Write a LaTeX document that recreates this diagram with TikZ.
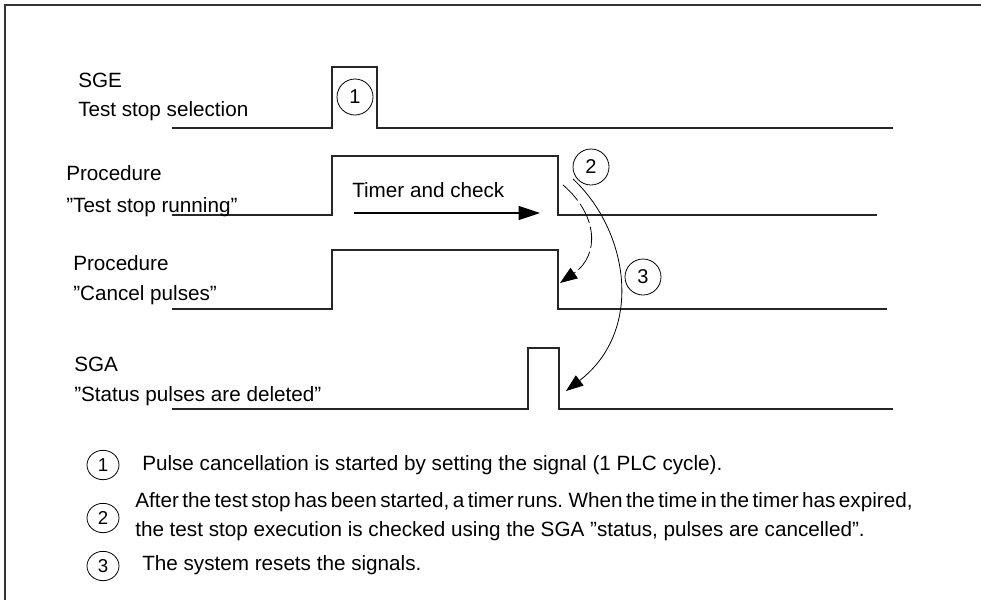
\documentclass[tikz,border=0pt]{standalone}
\usepackage{fontspec}
\setmainfont{Liberation Sans}
\usepackage{tikz}
\usetikzlibrary{arrows.meta,positioning,shapes.geometric}

\tikzset{
  sig/.style={line width=0.8pt, black!85},
  lbl/.style={font=\fontsize{15.5}{18}\selectfont, inner sep=0pt, anchor=base west},
  legtxt/.style={font=\fontsize{15.5}{18}\selectfont, inner sep=0pt, anchor=base west},
  numc/.style={draw, circle, line width=0.6pt, minimum size=27pt, inner sep=0pt, font=\fontsize{15}{17}\selectfont},
  legnum/.style={draw, ellipse, line width=0.6pt, minimum width=24pt, minimum height=22pt, inner sep=0pt, font=\fontsize{14}{16}\selectfont},
  bigtip/.style={-{Triangle[length=16pt,width=10.5pt]}},
  curvetip/.style={-{Triangle[length=13pt,width=9.5pt]}},
}

\begin{document}
\begin{tikzpicture}[x=0.75pt, y=-0.75pt]
  \useasboundingbox (0,0) rectangle (981,600);

  % 1. Rahmen
  \draw[line width=1.1pt, black!80] (981,5) -- (5,5) -- (5,600);

  % 2. Signalverlaeufe
  \draw[sig] (172,128) -- (332,128) -- (332,67) -- (377,67) -- (377,128) -- (893,128);
  \draw[sig] (172,215) -- (332,215) -- (332,156) -- (558,156) -- (558,215) -- (877,215);
  \draw[sig] (172,309) -- (332,309) -- (332,250) -- (558,250) -- (558,309) -- (887,309);
  \draw[sig] (172,409) -- (528,409) -- (528,348) -- (559,348) -- (559,409) -- (893,409);

  % 3. Beschriftung links
  \node[lbl] (sge) at (78,87) {SGE};
  \node[lbl] (sgetxt) at (78,116) {Test stop selection};
  \node[lbl] (proc1) at (66,180) {Procedure};
  \node[lbl] (proc1txt) at (66,212) {”Test stop running”};
  \node[lbl] (proc2) at (73,270) {Procedure};
  \node[lbl] (proc2txt) at (73,300) {”Cancel pulses”};
  \node[lbl] (sga) at (74,371) {SGA};
  \node[lbl] (sgatxt) at (74,401) {”Status pulses are deleted”};

  % 4. Timer
  \node[lbl] (timer) at (352,197) {Timer and check};
  \coordinate (tstart) at (354,213);
  \coordinate (tend) at (540,213);
  \draw[line width=0.8pt, bigtip] (tstart) -- (tend);

  % 5. Nummern im Diagramm
  \node[numc] (c1) at (355,97) {1};
  \node[numc] (c2) at (591,167) {2};
  \node[numc] (c3) at (643,277) {3};

  % 6. Pfeile von 2 und 3
  \coordinate (a2s) at (563,185);
  \coordinate (a2e) at (560,283);
  \coordinate (a3s) at (573,179);
  \coordinate (a3e) at (566,391);
  \draw[line width=0.6pt, dash pattern=on 16pt off 3pt, curvetip]
    (a2s) .. controls (598,215) and (600,255) .. (a2e);
  \draw[line width=0.6pt, curvetip]
    (a3s) .. controls (628,230) and (645,330) .. (a3e);

  % 7. Legende
  \node[legnum] (l1) at (103,465) {1};
  \node[legtxt] (l1txt) at (142,470) {Pulse cancellation is started by setting the signal (1 PLC cycle).};
  \node[legnum] (l2) at (103,518) {2};
  \node[legtxt] (l2txt) at (135,507) {\spaceskip=0.17em After the test stop has been started, a timer runs. When the time in the timer has expired,};
  \node[legtxt] (l2txtb) at (135,536) {the test stop execution is checked using the SGA ”status, pulses are cancelled”.};
  \node[legnum] (l3) at (103,566) {3};
  \node[legtxt] (l3txt) at (142,570) {The system resets the signals.};
\end{tikzpicture}
\end{document}
